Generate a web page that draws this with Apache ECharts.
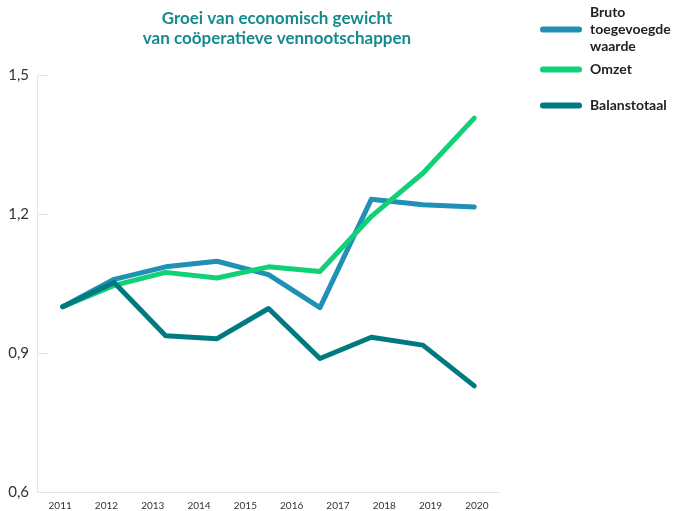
<!DOCTYPE html>
<html>
<head>
<meta charset="utf-8">
<script src="https://cdn.jsdelivr.net/npm/echarts@6/dist/echarts.min.js"></script>
<style>html,body{margin:0;padding:0;background:#fff;}#c{width:673px;height:511px;}</style>
</head>
<body>
<div id="c"></div>
<script>
var yearLabels = ['2011','2012','2013','2014','2015','2016','2017','2018','2019','2020'];
var pointIndex = ['p1','p2','p3','p4','p5','p6','p7','p8','p9'];
var brutoToegevoegdeWaarde = [1.0, 1.059, 1.086, 1.098, 1.069, 0.998, 1.232, 1.220, 1.215];
var omzet = [1.0, 1.046, 1.074, 1.062, 1.086, 1.076, 1.195, 1.288, 1.407];
var balanstotaal = [1.0, 1.052, 0.937, 0.931, 0.996, 0.888, 0.934, 0.917, 0.829];
var yTicks = {min: 0.6, max: 1.5, interval: 0.3};

var FONT = 'Lato';
var capsule = 'path://M3,0 L39,0 A3,3 0 0 1 39,6 L3,6 A3,3 0 0 1 3,0 Z';
var colors = ['#2190b5', '#10d078', '#007a80'];
function legendAt(name, top) {
  return {
    data: [name], left: 540, top: top, orient: 'vertical', padding: 0,
    icon: capsule, itemWidth: 42, itemHeight: 6, selectedMode: false,
    formatter: function (n) { return n === 'Bruto toegevoegde waarde' ? 'Bruto\ntoegevoegde\nwaarde' : n; },
    textStyle: {fontFamily: FONT, fontWeight: 'bold', fontSize: 14, color: '#222', lineHeight: 17, padding: [0, 0, 0, 3]}
  };
}
var chart = echarts.init(document.getElementById('c'), null, {renderer: 'canvas'});
chart.setOption({
  animation: false,
  color: colors,
  title: {
    text: 'Groei van economisch gewicht\nvan coöperatieve vennootschappen',
    left: 272, top: 4, textAlign: 'center',
    textStyle: {fontFamily: FONT, fontWeight: 'bold', fontSize: 17, color: '#168a8c', lineHeight: 20}
  },
  legend: [
    legendAt('Bruto toegevoegde waarde', 4),
    legendAt('Omzet', 61),
    legendAt('Balanstotaal', 97)
  ],
  grid: {left: 37, right: 173, top: 75, bottom: 18, containLabel: false},
  xAxis: [
    {type: 'category', data: pointIndex, boundaryGap: true, position: 'bottom',
     axisLine: {show: true, lineStyle: {color: '#dde7f0', width: 1}},
     axisTick: {show: false}, axisLabel: {show: false}, splitLine: {show: false}},
    {type: 'category', data: yearLabels, boundaryGap: true, position: 'bottom',
     axisLine: {show: false}, axisTick: {show: false}, splitLine: {show: false},
     axisLabel: {show: true, margin: 9, fontFamily: FONT, fontSize: 10, color: '#333'}}
  ],
  yAxis: {
    type: 'value', min: yTicks.min, max: yTicks.max, interval: yTicks.interval,
    axisLine: {show: true, lineStyle: {color: '#dde7f0', width: 1}},
    axisTick: {show: true, inside: true, length: 12, lineStyle: {color: '#dde7f0'}},
    splitLine: {show: false},
    axisLabel: {margin: 8, fontFamily: FONT, fontSize: 15, color: '#333',
      formatter: function (v) { return v.toFixed(1).replace('.', ','); }}
  },
  series: [
    {name: 'Bruto toegevoegde waarde', type: 'line', data: brutoToegevoegdeWaarde, xAxisIndex: 0, symbol: 'none',
     lineStyle: {width: 5, cap: 'round', join: 'round', color: colors[0]}},
    {name: 'Omzet', type: 'line', data: omzet, xAxisIndex: 0, symbol: 'none',
     lineStyle: {width: 5, cap: 'round', join: 'round', color: colors[1]}},
    {name: 'Balanstotaal', type: 'line', data: balanstotaal, xAxisIndex: 0, symbol: 'none',
     lineStyle: {width: 5, cap: 'round', join: 'round', color: colors[2]}}
  ]
});
</script>
</body>
</html>
